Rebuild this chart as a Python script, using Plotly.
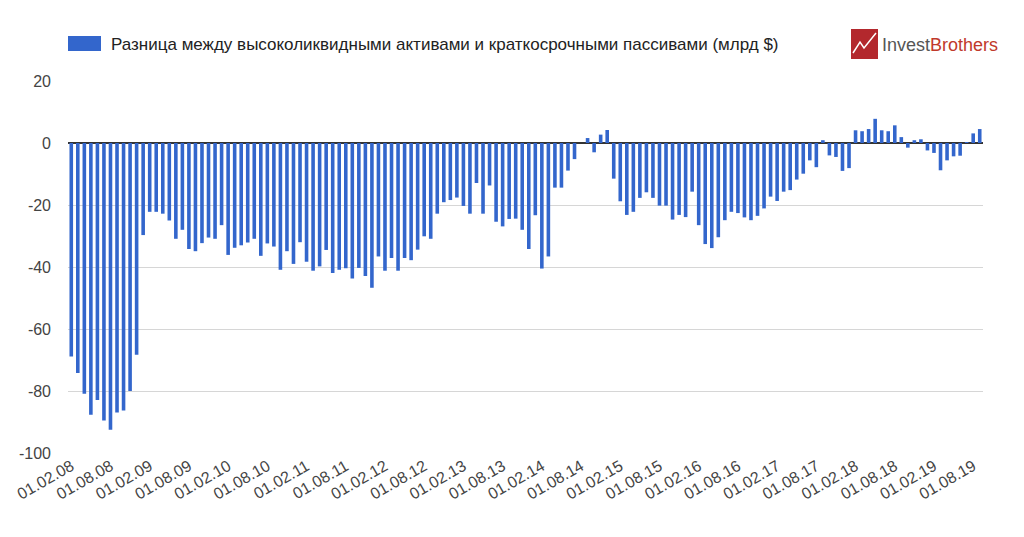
import plotly.graph_objects as go

# Monthly data, Feb 2008 .. Sep 2019 (bn $)
values = [
    -68.9, -74.2, -80.9, -87.7, -82.9, -89.5, -92.5, -86.9, -86.3, -80.0,
    -68.3, -29.7, -22.2, -22.2, -22.8, -25.0, -30.9, -28.0, -34.2, -34.9,
    -32.3, -30.5, -30.9, -26.5, -36.1, -33.8, -33.0, -32.1, -30.9, -36.4,
    -32.4, -33.4, -40.9, -34.9, -39.0, -32.0, -38.3, -41.2, -39.8, -34.5,
    -41.9, -40.9, -40.4, -43.7, -40.3, -42.9, -46.7, -36.6, -41.2, -37.1,
    -41.2, -37.1, -37.8, -34.4, -30.1, -30.9, -22.8, -19.1, -18.4, -17.6,
    -20.3, -22.8, -12.9, -22.8, -13.7, -25.4, -26.9, -24.5, -24.4, -28.0,
    -34.2, -23.3, -40.5, -36.6, -14.4, -14.4, -8.9, -5.2, 0.0, 1.6,
    -3.0, 2.7, 4.2, -11.5, -18.8, -23.2, -22.2, -17.7, -15.9, -17.7,
    -20.2, -20.2, -24.7, -23.2, -23.9, -15.7, -26.5, -32.6, -33.9, -30.4,
    -24.9, -22.2, -22.6, -24.0, -24.9, -23.5, -21.1, -17.3, -18.7, -15.7,
    -15.2, -11.8, -9.9, -5.6, -7.8, 0.9, -4.0, -4.5, -9.0, -8.1,
    4.1, 3.8, 4.5, 7.8, 4.1, 3.8, 5.7, 1.9, -1.5, 0.9,
    1.2, -2.4, -3.2, -8.8, -5.6, -4.3, -4.1, 0.3, 3.1, 4.5,
]

# Month categories
categories = []
for i in range(len(values)):
    m = (2 + i - 1) % 12 + 1
    y = 2008 + (2 + i - 1) // 12
    categories.append(f"01.{m:02d}.{y % 100:02d}")

tick_labels = categories[::6]
y_ticks = [20, 0, -20, -40, -60, -80, -100]

series_name = "Разница между высоколиквидными активами и краткосрочными пассивами (млрд $)"

BLUE = "#3366cc"

fig = go.Figure()
fig.add_trace(go.Bar(
    x=categories, y=values, name=series_name,
    marker=dict(color=BLUE, line=dict(width=0)),
    showlegend=False,
))

L, R, T, B = 68, 41, 81, 84
W, H = 1024, 537
pw, ph = W - L - R, H - T - B

def px_x(p):
    return (p - L) / pw

def px_y(p):
    return (H - B - p) / ph

fig.update_layout(
    width=W, height=H,
    margin=dict(l=L, r=R, t=T, b=B),
    paper_bgcolor="white", plot_bgcolor="white",
    bargap=0.45,
    font=dict(family="Arial, Liberation Sans, sans-serif", color="#444", size=15),
    xaxis=dict(
        type="category",
        categoryorder="array", categoryarray=categories,
        tickmode="array", tickvals=tick_labels, ticktext=tick_labels,
        tickangle=-30, showgrid=False, ticks="", showline=False,
        tickfont=dict(size=16, color="#444"),
    ),
    yaxis=dict(
        range=[-100, 20], tickmode="array", tickvals=y_ticks,
        ticktext=[str(v) for v in y_ticks],
        showgrid=True, gridcolor="#d6d6d6", gridwidth=1,
        zeroline=True, zerolinecolor="#333", zerolinewidth=1.5,
        showline=False, ticks="", ticklabelstandoff=16,
        tickfont=dict(size=16, color="#444"),
    ),
    shapes=[
        # legend swatch
        dict(type="rect", xref="paper", yref="paper",
             x0=px_x(68), x1=px_x(101), y0=px_y(51), y1=px_y(36),
             fillcolor=BLUE, line=dict(width=0)),
        # logo icon
        dict(type="rect", xref="paper", yref="paper",
             x0=px_x(851), x1=px_x(878), y0=px_y(59), y1=px_y(29),
             fillcolor="#b3282d", line=dict(width=0)),
        dict(type="path", xref="paper", yref="paper",
             path=(f"M {px_x(853)} {px_y(53)} L {px_x(860)} {px_y(42)} "
                   f"L {px_x(864)} {px_y(48)} L {px_x(876)} {px_y(33)}"),
             line=dict(color="white", width=1.5)),
    ],
    annotations=[
        dict(text=series_name, xref="paper", yref="paper",
             x=px_x(109), y=px_y(44), xanchor="left", yanchor="middle",
             showarrow=False, font=dict(size=17, color="#222")),
        dict(text="Invest<span style='color:#c0392b'>Brothers</span>",
             xref="paper", yref="paper",
             x=px_x(880), y=px_y(45), xanchor="left", yanchor="middle",
             showarrow=False, font=dict(size=18, color="#555")),
    ],
)

fig.write_html("out.html")
